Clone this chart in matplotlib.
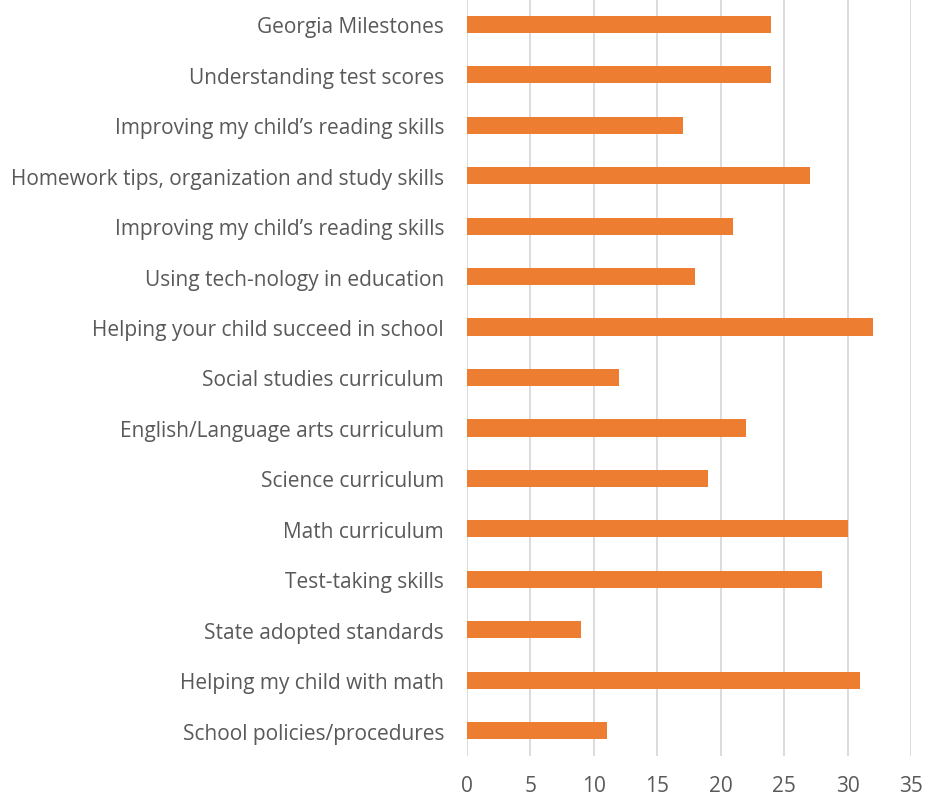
import matplotlib
matplotlib.use("Agg")
import matplotlib.pyplot as plt

categories = [
    "Georgia Milestones",
    "Understanding test scores",
    "Improving my child\u2019s reading skills",
    "Homework tips, organization and study skills",
    "Improving my child\u2019s reading skills",
    "Using tech-nology in education",
    "Helping your child succeed in school",
    "Social studies curriculum",
    "English/Language arts curriculum",
    "Science curriculum",
    "Math curriculum",
    "Test-taking skills",
    "State adopted standards",
    "Helping my child with math",
    "School policies/procedures",
]
values = [24, 24, 17, 27, 21, 18, 32, 12, 22, 19, 30, 28, 9, 31, 11]
xticks = [0, 5, 10, 15, 20, 25, 30, 35]

plt.rcParams['font.family'] = ['Open Sans', 'DejaVu Sans']

fig = plt.figure(figsize=(9.27, 8.03), dpi=100)
W, H = 927, 803
left, right, top, bottom = 467, 911, 0, 757
ax = fig.add_axes([left / W, 1 - bottom / H, (right - left) / W, (bottom - top) / H])

ypos = list(range(len(categories)))
ax.barh(ypos, values, height=0.34, color="#ED7D31", zorder=3)
ax.set_ylim(len(categories) - 0.5, -0.5)
ax.set_xlim(0, 35)
ax.set_xticks(xticks)
ax.set_xticklabels([str(t) for t in xticks])
ax.set_yticks(ypos)
ax.set_yticklabels(categories)
ax.grid(axis="x", color="#D9D9D9", linewidth=1.3, zorder=0)
for s in ax.spines.values():
    s.set_visible(False)
ax.tick_params(axis="both", length=0, colors="#595959", labelsize=15)
ax.tick_params(axis="y", pad=16.5)
ax.tick_params(axis="x", pad=14)

fig.savefig("out.png", dpi=100)
